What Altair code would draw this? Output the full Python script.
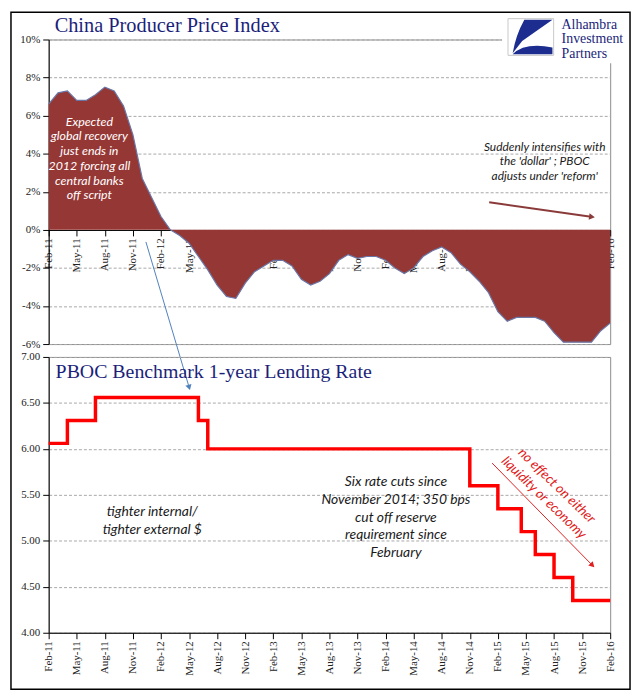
import math
import altair as alt
import pandas as pd

# ---------------- data ----------------
tick_labels = ["Feb-11", "May-11", "Aug-11", "Nov-11", "Feb-12", "May-12", "Aug-12",
               "Nov-12", "Feb-13", "May-13", "Aug-13", "Nov-13", "Feb-14", "May-14",
               "Aug-14", "Nov-14", "Feb-15", "May-15", "Aug-15", "Nov-15", "Feb-16"]

# China PPI, % y/y, one value per month from Feb-11 to Feb-16
ppi = [6.6, 7.2, 7.3, 6.8, 6.8, 7.1, 7.5, 7.3, 6.5, 5.0, 2.7, 1.7,
       0.7, 0.0, -0.3, -0.7, -1.4, -2.1, -2.9, -3.5, -3.6, -2.8, -2.2, -1.9,
       -1.6, -1.6, -1.9, -2.6, -2.9, -2.7, -2.3, -1.6, -1.3, -1.5, -1.4, -1.4,
       -1.6, -2.0, -2.3, -2.0, -1.4, -1.1, -0.9, -1.2, -1.8, -2.2, -2.7, -3.3,
       -4.3, -4.8, -4.6, -4.6, -4.6, -4.8, -5.4, -5.9, -5.9, -5.9, -5.9, -5.3, -4.9]

# PBOC 1-year lending rate: month index (0 = Feb-11) where a new level starts
rate_month = [0, 2, 5, 16, 17, 45, 48, 50.5, 52, 54, 56, 60]
rate_level = [6.06, 6.31, 6.56, 6.31, 6.00, 5.60, 5.35, 5.10, 4.85, 4.60, 4.35, 4.35]

ppi_ticks = [-6, -4, -2, 0, 2, 4, 6, 8, 10]
rate_ticks = [4.0, 4.5, 5.0, 5.5, 6.0, 6.5, 7.0]

# ---------------- layout ----------------
W = 566
H1 = 307
H2 = 278
NAVY = "#1B1F7A"
SERIF = "Liberation Serif"
NOTE = "Lato"

ppi_df = pd.DataFrame({"m": list(range(len(ppi))), "v": ppi})
rate_df = pd.DataFrame({"m": rate_month, "r": rate_level})
one = pd.DataFrame({"k": [0]})
base = alt.Chart(one)

label_js = "[" + ",".join("'%s'" % t for t in tick_labels) + "][round(datum.value/3)]"
month_ticks = list(range(0, 61, 3))


def xaxis(offset=0):
    return alt.Axis(values=month_ticks, labelExpr=label_js, labelAngle=-90,
                    labelOverlap=False, labelFlush=False, grid=False,
                    offset=offset, title=None, labelPadding=2)


def text_layer(lines, x, y, **kw):
    return base.mark_text(text=lines, **kw).encode(x=alt.value(x), y=alt.value(y))


def arrow(x1, y1, x2, y2, color, width, head):
    dx, dy = x2 - x1, y2 - y1
    L = math.hypot(dx, dy)
    ux, uy = dx / L, dy / L
    back = math.sqrt(head) * 0.35
    cx, cy = x2 - ux * back, y2 - uy * back
    ang = math.degrees(math.atan2(dx, -dy)) % 360
    line = base.mark_rule(color=color, strokeWidth=width).encode(
        x=alt.value(x1), y=alt.value(y1), x2=alt.value(cx), y2=alt.value(cy))
    tip = base.mark_point(shape="triangle", filled=True, color=color, size=head,
                          angle=ang, opacity=1).encode(x=alt.value(cx), y=alt.value(cy))
    return line + tip


# ---------------- top panel: PPI ----------------
x_top = alt.X("m:Q", scale=alt.Scale(domain=[0, 60], nice=False, zero=False),
              axis=xaxis(offset=-round(H1 * 6 / 16)))
y_top = alt.Y("v:Q", scale=alt.Scale(domain=[-6, 10], nice=False),
              axis=alt.Axis(values=ppi_ticks, labelExpr="datum.value + '%'", title=None,
                            grid=True, labelPadding=3))

area = alt.Chart(ppi_df).mark_area(
    color="#953735", opacity=1,
    line={"color": "#6A76A6", "strokeWidth": 1.2}
).encode(x=x_top, y=y_top, y2=alt.datum(0))

logo_bg = base.mark_rect(color="white", opacity=1).encode(
    x=alt.value(457), x2=alt.value(584), y=alt.value(-27), y2=alt.value(24))
logo_box = base.mark_rect(fillOpacity=0, stroke="#C8C8C8", strokeWidth=1).encode(
    x=alt.value(463), x2=alt.value(509), y=alt.value(-21), y2=alt.value(16))
logo_path = ("M -0.3 -0.8 L 1 -0.8 L -0.4 0.19 L -0.84 0.75 Q -0.7 -0.08 -0.3 -0.8 Z "
             "M -0.84 0.8 Q -0.3 0.24 1 0.48 L 1 0.8 Z")
logo_sym = base.mark_point(shape=logo_path, filled=True, color="#1C2D8F", size=1900,
                           opacity=1).encode(x=alt.value(486), y=alt.value(-2.5))
logo_txt = text_layer(["Alhambra", "Investment", "Partners"], 517, -15,
                      font=SERIF, fontSize=14, color=NAVY, align="left",
                      baseline="middle", lineHeight=15)

title1 = text_layer("China Producer Price Index", 6, -7.5, font=SERIF, fontSize=20.5,
                    color=NAVY, align="left", baseline="alphabetic")

note1 = text_layer(["Expected", "global recovery", "just ends in", "2012 forcing all",
                    "central banks", "off script"], 41, 83, font=NOTE, fontStyle="italic",
                   fontSize=12.5, color="white", align="center", baseline="middle",
                   lineHeight=14.8)
note2 = text_layer(["Suddenly intensifies with", "the 'dollar' ; PBOC",
                    "adjusts under 'reform'"], 500, 108, font=NOTE, fontStyle="italic",
                   fontSize=12, color="#1A1A1A", align="center", baseline="middle",
                   lineHeight=15)

arr1 = arrow(444, 164, 549, 179, "#8B3A3A", 2, 45)
arr_blue = arrow(98, 204, 142, 352, "#4F81BD", 1, 40)

frame = base.mark_rect(fillOpacity=0, stroke="black", strokeWidth=1.5).encode(
    x=alt.value(-38), x2=alt.value(586), y=alt.value(-27.5), y2=alt.value(655))

top = alt.layer(area, note1, note2, arr1, logo_bg, logo_box, logo_sym, logo_txt,
                title1, arr_blue, frame).properties(width=W, height=H1)

# ---------------- bottom panel: lending rate ----------------
x_bot = alt.X("m:Q", scale=alt.Scale(domain=[0, 60], nice=False, zero=False),
              axis=xaxis())
y_bot = alt.Y("r:Q", scale=alt.Scale(domain=[4, 7], nice=False, zero=False),
              axis=alt.Axis(values=rate_ticks, format=".2f", title=None, grid=True,
                            labelPadding=3))

step = alt.Chart(rate_df).mark_line(interpolate="step-after", color="#FF0000",
                                    strokeWidth=3.5).encode(x=x_bot, y=y_bot)

title2 = text_layer("PBOC Benchmark 1-year Lending Rate", 7, 21, font=SERIF,
                    fontSize=20, color=NAVY, align="left", baseline="alphabetic")
note3 = text_layer(["tighter internal/", "tighter external $"], 104.5, 156, font=NOTE,
                   fontStyle="italic", fontSize=14, color="#1A1A1A", align="center",
                   baseline="middle", lineHeight=18)
note4 = text_layer(["Six rate cuts since", "November 2014; 350 bps", "cut off reserve",
                    "requirement since", "February"], 350, 126, font=NOTE,
                   fontStyle="italic", fontSize=14, color="#1A1A1A", align="center",
                   baseline="middle", lineHeight=18)
note5a = text_layer("no effect on either", 512, 130, font=NOTE, fontStyle="italic",
                    fontSize=13.5, color="#E02020", align="center", baseline="middle",
                    angle=44)
note5b = text_layer("liquidity or economy", 499, 142, font=NOTE, fontStyle="italic",
                    fontSize=13.5, color="#E02020", align="center", baseline="middle",
                    angle=44)
arr_red = arrow(447, 107, 549, 211, "#E02020", 1, 40)

bottom = alt.layer(step, title2, note3, note4, note5a, note5b, arr_red).properties(
    width=W, height=H2)

chart = alt.vconcat(top, bottom, spacing=13, bounds="flush").properties(
    padding={"left": 1, "top": 0, "right": 1, "bottom": 1}
).configure_view(
    stroke="#8C8C8C", strokeWidth=1
).configure_axis(
    labelFont=SERIF, labelFontSize=11, labelColor="#222222",
    domainColor="#000000", domainWidth=1, tickColor="#000000", tickSize=6,
    gridColor="#A8A8A8", gridDash=[3, 2], gridWidth=1
)

chart.save("out.html", embed_options={"renderer": "svg", "actions": False})
